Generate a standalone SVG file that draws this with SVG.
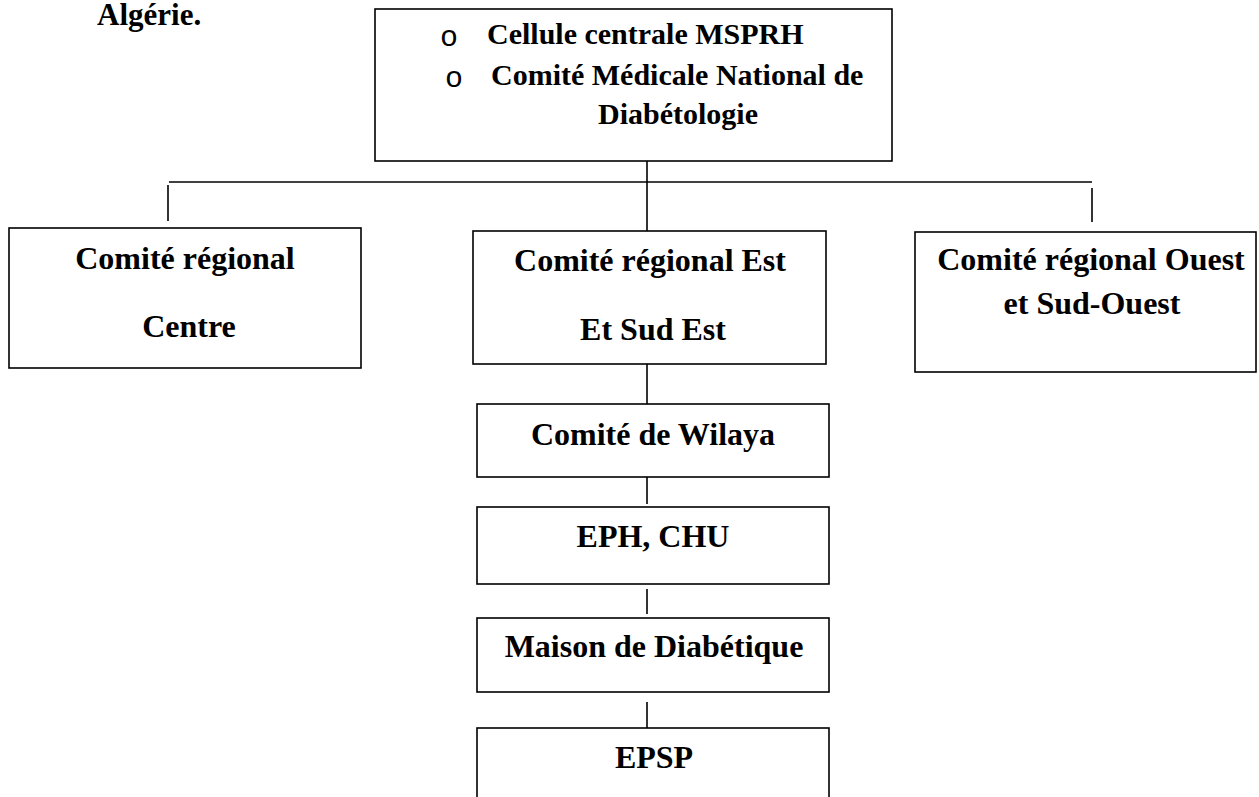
<svg xmlns="http://www.w3.org/2000/svg" width="1259" height="797" viewBox="0 0 1259 797">
<style>
.box{fill:#fff;stroke:#000;stroke-width:1.6}
.ln{stroke:#000;stroke-width:1.6;fill:none}
text{font-family:"Liberation Serif","Times New Roman",serif;font-weight:bold;fill:#000}
.t32{font-size:32px}
.t30{font-size:30px}
.c{text-anchor:middle}
.bul{font-family:"Liberation Mono","Courier New",monospace;font-weight:normal;font-size:30px}
</style>
<rect width="1259" height="797" fill="#fff"/>
<text id="title" x="97" y="25" style="font-size:31px">Algérie.</text>
<g id="connectors">
<line class="ln" x1="647" y1="161" x2="647" y2="231"/>
<line class="ln" x1="169" y1="182" x2="1092" y2="182"/>
<line class="ln" x1="168" y1="185" x2="168" y2="221"/>
<line class="ln" x1="1092" y1="188" x2="1092" y2="222"/>
<line class="ln" x1="647" y1="359" x2="647" y2="404"/>
<line class="ln" x1="647" y1="476" x2="647" y2="504"/>
<line class="ln" x1="647" y1="589" x2="647" y2="614"/>
<line class="ln" x1="647" y1="702" x2="647" y2="728"/>
</g>
<g id="n-central">
<rect class="box" x="375" y="9" width="517" height="152"/>
<text x="440" y="46" class="bul">o</text>
<text x="487" y="44" class="t30">Cellule centrale MSPRH</text>
<text x="445" y="87" class="bul">o</text>
<text x="491" y="85" class="t30">Comité Médicale National de</text>
<text x="678" y="124" class="t30 c">Diabétologie</text>
</g>
<g id="n-centre">
<rect class="box" x="9" y="228" width="352" height="140"/>
<text x="185" y="269" class="t32 c">Comité régional</text>
<text x="189" y="337" class="t32 c">Centre</text>
</g>
<g id="n-est">
<rect class="box" x="473" y="231" width="353" height="133"/>
<text x="650" y="271" class="t32 c">Comité régional Est</text>
<text x="653" y="340" class="t32 c">Et Sud Est</text>
</g>
<g id="n-ouest">
<rect class="box" x="915" y="232" width="341" height="140"/>
<text x="1091" y="270" class="t32 c">Comité régional Ouest</text>
<text x="1092" y="314" class="t32 c">et Sud-Ouest</text>
</g>
<g id="n-wilaya">
<rect class="box" x="477" y="404" width="352" height="73"/>
<text x="653" y="445" class="t32 c">Comité de Wilaya</text>
</g>
<g id="n-eph">
<rect class="box" x="477" y="507" width="352" height="77"/>
<text x="653" y="547" class="t32 c">EPH, CHU</text>
</g>
<g id="n-maison">
<rect class="box" x="477" y="618" width="352" height="74"/>
<text x="654" y="657" class="t32 c">Maison de Diabétique</text>
</g>
<g id="n-epsp">
<rect class="box" x="477" y="728" width="352" height="90"/>
<text x="654" y="768" class="t32 c">EPSP</text>
</g>
</svg>
